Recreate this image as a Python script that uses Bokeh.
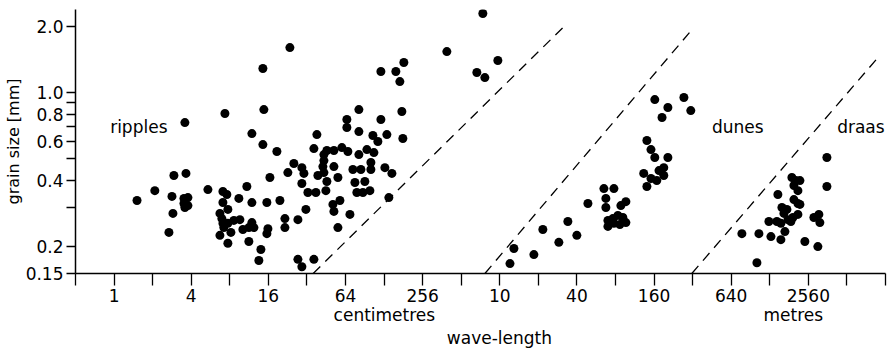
import math
from bokeh.plotting import figure
from bokeh.models import Range1d, FixedTicker, CustomJSTickFormatter, Label, LogAxis
from bokeh.embed import file_html
from bokeh.resources import INLINE

# ---- data ----
# ripples: wave-length in centimetres, grain size in mm
ripple_wavelength_cm = [
    1.51, 2.08, 2.83, 2.93, 3.64, 2.88, 2.68, 3.51, 3.77, 3.51, 3.77, 3.57, 3.57,
    5.40, 7.07, 7.59, 7.07, 7.73, 6.70, 6.94, 7.07, 7.19, 7.73, 8.61, 9.59, 8.16,
    6.70, 7.73, 9.42, 10.87, 11.90, 10.12, 11.90, 12.34, 11.27, 11.27, 13.99, 13.49,
    15.58, 16.45, 15.87, 15.58, 7.33, 14.76, 11.90, 14.50, 14.50, 23.56, 18.65,
    19.69, 22.72, 25.31, 21.54, 21.54, 27.21, 27.21, 29.22, 36.26, 29.22, 30.30,
    29.22, 32.56, 37.59, 31.41, 36.26, 38.27, 43.41, 45.80, 43.41, 42.63, 51.96,
    59.98, 66.8, 51.96, 38.97, 43.41, 45.80, 44.98, 55.83, 73.1, 84.4, 101.0, 101.0,
    129.9, 147.3, 75.8, 90.6, 78.5, 87.5, 99.2, 51.03, 51.96, 57.88, 69.3, 139.5,
    55.83, 81.4, 94.0, 106.6, 114.5, 104.7, 134.6, 179.4, 81.4, 65.6, 65.6, 81.4,
    120.9, 176.2, 120.9, 158.2, 182.6, 170.0, 395.6, 755, 989, 678, 783,
]
ripple_grain_mm = [
    0.323, 0.358, 0.337, 0.420, 0.429, 0.282, 0.231, 0.330, 0.333, 0.313, 0.306, 0.300, 0.732,
    0.362, 0.355, 0.344, 0.316, 0.294, 0.282, 0.267, 0.254, 0.243, 0.254, 0.262, 0.264, 0.231,
    0.224, 0.206, 0.330, 0.374, 0.316, 0.238, 0.256, 0.243, 0.243, 0.210, 0.193, 0.172,
    0.316, 0.411, 0.240, 0.228, 0.805, 0.839, 0.652, 0.581, 1.291, 1.609, 0.540,
    0.323, 0.433, 0.476, 0.267, 0.243, 0.264, 0.174, 0.161, 0.174, 0.456, 0.429,
    0.386, 0.351, 0.351, 0.294, 0.557, 0.645, 0.523, 0.546, 0.491, 0.461, 0.546,
    0.563, 0.540, 0.461, 0.420, 0.433, 0.394, 0.358, 0.411, 0.447, 0.447, 0.481, 0.447,
    0.456, 0.429, 0.390, 0.394, 0.351, 0.351, 0.358, 0.310, 0.288, 0.323, 0.279, 0.333,
    0.243, 0.523, 0.551, 0.534, 0.600, 0.639, 0.645, 0.619, 0.666, 0.756, 0.695, 0.839,
    0.756, 0.822, 1.251, 1.251, 1.375, 1.126, 1.543, 2.30, 1.404, 1.238, 1.174,
]

# dunes: wave-length in metres, grain size in mm
dune_wavelength_m = [
    12.3, 13.2, 18.9, 22.2, 29.6, 34.8, 40.9, 49.9, 66.5, 79.6, 68.9, 68.9, 98.7,
    90.2, 71.5, 71.5, 78.1, 85.5, 93.5, 88.6, 98.7, 79.6, 144, 155, 166, 210, 195,
    179, 195, 172, 155, 136, 144, 166, 210, 189, 280, 317,
]
dune_grain_mm = [
    0.1665, 0.195, 0.183, 0.238, 0.208, 0.259, 0.224, 0.313, 0.366, 0.366, 0.330, 0.300, 0.319,
    0.306, 0.262, 0.246, 0.267, 0.276, 0.270, 0.251, 0.256, 0.254, 0.606, 0.551, 0.507, 0.507, 0.456,
    0.442, 0.420, 0.398, 0.407, 0.429, 0.374, 0.932, 0.857, 0.772, 0.952, 0.830,
]

# draas: wave-length in metres, grain size in mm
draa_wavelength_m = [
    794, 1078, 1040, 1338, 1600, 1720, 2462, 3110, 3657, 3657, 1516, 1290, 1489, 1600,
    1950, 2096, 2252, 2022, 2173, 2022, 2173, 2252, 1630, 1783, 1690, 2173, 1986, 1816,
    1915, 2895, 3167, 3224,
]
draa_grain_mm = [
    0.228, 0.228, 0.168, 0.221, 0.214, 0.233, 0.210, 0.199, 0.374, 0.507, 0.344, 0.259, 0.259, 0.254,
    0.411, 0.398, 0.398, 0.378, 0.358, 0.326, 0.313, 0.310, 0.300, 0.294, 0.282, 0.279, 0.270, 0.264,
    0.259, 0.270, 0.279, 0.256,
]

# dashed boundary lines (wave-length in cm, grain size in mm)
boundary_wavelength_cm = [[35.8, 3183], [784, 32900], [32300, 930000]]
boundary_grain_mm = [[0.15, 1.985], [0.15, 1.965], [0.15, 1.464]]

# axis ticks (wave-length axis is a log2 scale in cm; labels switch to metres)
x_tick_exponents = [0, 2, 4, 6, 8, 10, 12, 14, 16, 18]
x_tick_labels = ["1", "4", "16", "64", "256", "10", "40", "160", "640", "2560"]
x_minor_exponents = [-1, 1, 3, 5, 7, 9, 11, 13, 15, 17, 19, 20]
unit_positions_cm = [128.7, 200000]
unit_labels = ["centimetres", "metres"]
y_tick_values = [0.15, 0.2, 0.4, 0.6, 0.8, 1.0, 2.0]
y_tick_labels = ["0.15", "0.2", "0.4", "0.6", "0.8", "1.0", "2.0"]
y_minor_values = [0.3, 0.5, 0.7, 0.9]

FONT = "DejaVu Sans"

p = figure(
    width=889, height=352,
    x_axis_type="log", y_axis_type="log",
    x_range=Range1d(0.5, 2 ** 20), y_range=Range1d(0.15, 2.4),
    output_backend="svg", toolbar_location=None, title=None,
    min_border_left=75, min_border_right=4, min_border_top=9, min_border_bottom=79,
)
p.grid.visible = False
p.outline_line_color = None
p.background_fill_color = "white"
p.border_fill_color = "white"

xs = ripple_wavelength_cm + [m * 100 for m in dune_wavelength_m] + [m * 100 for m in draa_wavelength_m]
ys = ripple_grain_mm + dune_grain_mm + draa_grain_mm
p.scatter(xs, ys, size=9, fill_color="black", line_color="black", line_width=0)

for bx, by in zip(boundary_wavelength_cm, boundary_grain_mm):
    p.line(bx, by, line_color="black", line_width=1.3, line_dash="10 7")

# x axis
p.xaxis.ticker = FixedTicker(ticks=[2 ** e for e in x_tick_exponents],
                             minor_ticks=[2 ** e for e in x_minor_exponents])
p.xaxis.formatter = CustomJSTickFormatter(
    args=dict(exps=x_tick_exponents, labels=x_tick_labels),
    code="""
const e = Math.round(Math.log2(tick));
const i = exps.indexOf(e);
return i >= 0 ? labels[i] : "";
""")
# y axis
p.yaxis.ticker = FixedTicker(ticks=y_tick_values, minor_ticks=y_minor_values)
p.yaxis.formatter = CustomJSTickFormatter(
    args=dict(vals=y_tick_values, labels=y_tick_labels),
    code="""
for (let i = 0; i < vals.length; i++) {
  if (Math.abs(vals[i] - tick) < 1e-6) return labels[i];
}
return "";
""")

for ax, tick_len in ((p.xaxis, 12), (p.yaxis, 9)):
    ax.axis_line_color = "black"
    ax.axis_line_width = 1.5
    ax.major_tick_line_color = "black"
    ax.minor_tick_line_color = "black"
    ax.major_tick_line_width = 1.3
    ax.minor_tick_line_width = 1.3
    ax.major_tick_in = 0
    ax.minor_tick_in = 0
    ax.major_tick_out = tick_len
    ax.minor_tick_out = tick_len
    ax.major_label_text_font = FONT
    ax.major_label_text_font_size = "17px"
    ax.major_label_text_color = "black"
    ax.major_label_standoff = 3

p.yaxis.axis_label = "grain size [mm]"
p.yaxis.axis_label_text_font = FONT
p.yaxis.axis_label_text_font_size = "16px"
p.yaxis.axis_label_text_font_style = "normal"
p.yaxis.axis_label_text_color = "black"
p.yaxis.axis_label_standoff = 0

# second axis below: units and the axis title (title nudged right with no-break spaces)
unit_axis = LogAxis(
    ticker=FixedTicker(ticks=unit_positions_cm),
    formatter=CustomJSTickFormatter(
        args=dict(vals=unit_positions_cm, labels=unit_labels),
        code="""
let best = 0;
for (let i = 1; i < vals.length; i++) {
  if (Math.abs(Math.log(vals[i] / tick)) < Math.abs(Math.log(vals[best] / tick))) best = i;
}
return labels[best];
"""),
    axis_line_color=None, major_tick_line_color=None, minor_tick_line_color=None,
    major_tick_in=0, major_tick_out=0, major_label_standoff=0,
    major_label_text_font=FONT, major_label_text_font_size="17px",
    major_label_text_color="black",
    axis_label="\u00a0" * 7 + "wave-length", axis_label_standoff=0,
    axis_label_text_font=FONT, axis_label_text_font_size="17px",
    axis_label_text_font_style="normal", axis_label_text_color="black",
)
p.add_layout(unit_axis, "below")

def add_text(x, y, text):
    p.add_layout(Label(x=x, y=y, text=text, text_font=FONT, text_font_size="17px",
                       text_color="black", text_align="center", text_baseline="alphabetic"))

add_text(1.56, 0.702, "ripples")
add_text(73800, 0.702, "dunes")
add_text(674000, 0.702, "draas")

open("out.html", "w").write(file_html(p, INLINE))
